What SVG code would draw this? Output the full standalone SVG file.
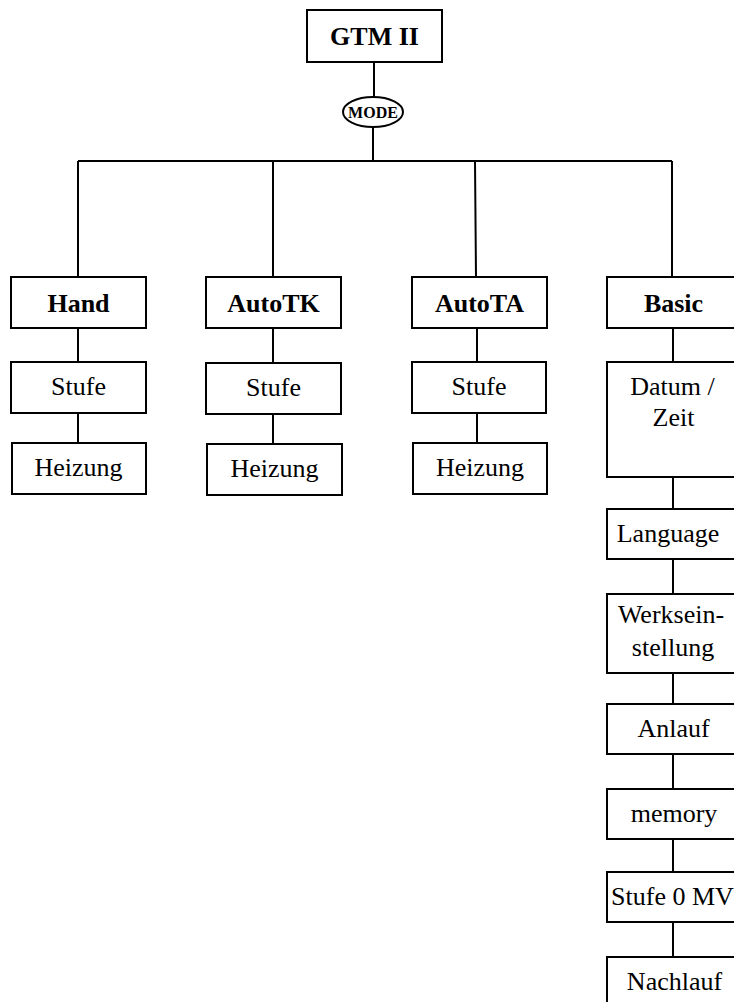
<svg xmlns="http://www.w3.org/2000/svg" width="734" height="1002" viewBox="0 0 734 1002">
<style>
.box{fill:#fff;stroke:#000;stroke-width:2}
.ln{fill:none;stroke:#000;stroke-width:2}
text{font-family:"Liberation Serif","Times New Roman",serif;font-size:26px;fill:#000;text-anchor:middle}
.b{font-weight:bold}
</style>
<rect width="734" height="1002" fill="#fff"/>
<g id="connectors">
<path class="ln" d="M374 62V97M373 127V161M78 161H672M78 161V277M273 161V277M475 161L476 277M672 161V277"/>
<path class="ln" d="M78 328V362M78 413V443M273 328V363M273 414V444M477 328V362M477 413V443"/>
<path class="ln" d="M673 328V362M673 477V509M673 559V594M673 673V704M673 754V789M673 839V872M673 922V957"/>
</g>
<g id="gtm"><rect class="box" x="307" y="10" width="135" height="52"/><text class="b" x="374.5" y="45">GTM II</text></g>
<g id="mode"><ellipse cx="373" cy="112" rx="30" ry="15" fill="#fff" stroke="#000" stroke-width="2"/><text class="b" x="373" y="117.5" style="font-size:16px">MODE</text></g>
<g id="hand"><rect class="box" x="11" y="277" width="135" height="51"/><text class="b" x="78.5" y="312">Hand</text></g>
<g id="hand-stufe"><rect class="box" x="11" y="362" width="135" height="51"/><text x="78.5" y="395">Stufe</text></g>
<g id="hand-heizung"><rect class="box" x="12" y="443" width="134" height="51"/><text x="78.5" y="476">Heizung</text></g>
<g id="autotk"><rect class="box" x="206" y="277" width="135" height="51"/><text class="b" x="273.5" y="312">AutoTK</text></g>
<g id="autotk-stufe"><rect class="box" x="206" y="363" width="135" height="51"/><text x="273.5" y="396">Stufe</text></g>
<g id="autotk-heizung"><rect class="box" x="207" y="444" width="135" height="51"/><text x="274.5" y="477">Heizung</text></g>
<g id="autota"><rect class="box" x="412" y="277" width="135" height="51"/><text class="b" x="479.5" y="312">AutoTA</text></g>
<g id="autota-stufe"><rect class="box" x="412" y="362" width="134" height="51"/><text x="479" y="395">Stufe</text></g>
<g id="autota-heizung"><rect class="box" x="413" y="443" width="134" height="51"/><text x="480" y="476">Heizung</text></g>
<g id="basic"><rect class="box" x="607" y="277" width="135" height="51"/><text class="b" x="673.5" y="312">Basic</text></g>
<g id="datum"><rect class="box" x="607" y="362" width="135" height="115"/><text x="672.5" y="395">Datum /</text><text x="673.5" y="426">Zeit</text></g>
<g id="language"><rect class="box" x="607" y="509" width="135" height="50"/><text x="668" y="542">Language</text></g>
<g id="werk"><rect class="box" x="607" y="594" width="135" height="79"/><text x="671" y="623">Werksein-</text><text x="673" y="656">stellung</text></g>
<g id="anlauf"><rect class="box" x="607" y="704" width="135" height="50"/><text x="673.5" y="737">Anlauf</text></g>
<g id="memory"><rect class="box" x="607" y="789" width="135" height="50"/><text x="674" y="822">memory</text></g>
<g id="stufe0mv"><rect class="box" x="607" y="872" width="135" height="50"/><text x="672.5" y="905">Stufe 0 MV</text></g>
<g id="nachlauf"><rect class="box" x="607" y="957" width="135" height="60"/><text x="674.5" y="990">Nachlauf</text></g>
</svg>
